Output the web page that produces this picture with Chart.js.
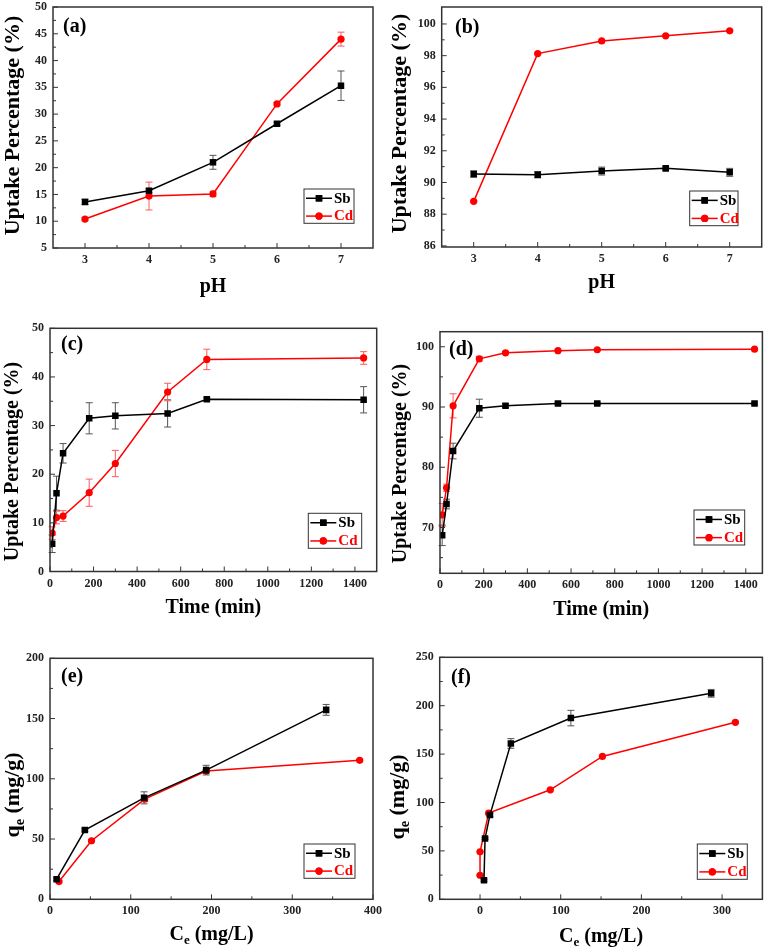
<!DOCTYPE html>
<html><head><meta charset="utf-8">
<script src="https://cdn.jsdelivr.net/npm/chart.js@4.4.0/dist/chart.umd.min.js"></script>
<style>
html,body{margin:0;padding:0;background:#fff;width:767px;height:952px;overflow:hidden;}
canvas{position:absolute;}
</style></head><body>
<canvas id="ca"></canvas><canvas id="cb"></canvas><canvas id="cc"></canvas>
<canvas id="cd"></canvas><canvas id="ce"></canvas><canvas id="cf"></canvas>
<script>
// ---------- DATA ----------
const pHValues = [3, 4, 5, 6, 7];
// (a)
const sbA = [13.6, 15.7, 21.0, 28.2, 35.3];
const sbAErr = [0.5, 0.4, 1.3, 0.3, 2.75];
const cdA = [10.4, 14.7, 15.1, 31.9, 44.0];
const cdAErr = [0.3, 2.6, 0.5, 0.3, 1.3];
// (b)
const sbB = [90.53, 90.49, 90.72, 90.89, 90.64];
const sbBErr = [0.2, 0.2, 0.25, 0.1, 0.25];
const cdB = [88.81, 98.13, 98.93, 99.25, 99.57];
const cdBErr = [0.05, 0.05, 0.05, 0.05, 0.05];
// time (min)
const timeValues = [10, 30, 60, 180, 300, 540, 720, 1440];
// (c)
const sbC = [5.7, 16.1, 24.3, 31.5, 32.0, 32.5, 35.4, 35.3];
const sbCErr = [1.8, 3.5, 2.0, 3.2, 2.7, 2.8, 0.3, 2.7];
const cdC = [7.9, 11.1, 11.4, 16.2, 22.2, 36.9, 43.6, 43.9];
const cdCErr = [1.3, 1.3, 1.1, 2.8, 2.7, 1.8, 2.1, 1.3];
// (d)
const sbD = [68.7, 73.9, 82.7, 89.8, 90.2, 90.6, 90.6, 90.6];
const sbDErr = [1.7, 0.8, 1.3, 1.5, 0.3, 0.2, 0.2, 0.2];
const cdD = [72.1, 76.6, 90.2, 98.0, 99.0, 99.35, 99.5, 99.6];
const cdDErr = [1.9, 0.6, 2.0, 0.4, 0.2, 0.1, 0.1, 0.1];
// (e) isotherm
const sbCeE = [8.2, 43.2, 116.5, 193.4, 342];
const sbQeE = [16.7, 57.5, 84.2, 107.2, 157.2];
const sbQeEErr = [1, 1, 5, 4, 4.5];
const cdCeE = [11.1, 51.4, 117.3, 193.4, 383.5];
const cdQeE = [14.7, 48.6, 83.1, 106.4, 115.3];
const cdQeEErr = [1, 1, 2, 1.5, 1];
// (f) isotherm
const sbCeF = [4.9, 6.2, 12.3, 38.2, 112.6, 286.5];
const sbQeF = [19.7, 62.8, 87.2, 161, 187.2, 212.8];
const sbQeFErr = [1, 1, 2, 5, 8, 4];
const cdCeF = [0, 0, 10.7, 87.1, 151.7, 316.5];
const cdQeF = [24.8, 49, 89, 113.1, 147.6, 182.8];
const cdQeFErr = [0.5, 0.5, 1, 1, 1, 1];
// tick labels
const pHTicks = [3, 4, 5, 6, 7];
const timeTicks = [0, 200, 400, 600, 800, 1000, 1200, 1400];
const seriesNames = ['Sb', 'Cd'];

// ---------- DRAWING ----------
const FONT = '"Liberation Serif", "Times New Roman", serif';
const range = (a, b, s) => { const r = []; for (let v = a; v <= b + 1e-9; v += s) r.push(+v.toFixed(4)); return r; };
const pts = (xs, ys) => xs.map((x, i) => ({x, y: ys[i]}));

function drawParts(ctx, parts, size) {
  // measure
  let w = 0;
  parts.forEach(p => {
    ctx.font = `bold ${p.sub ? size * 0.65 : size}px ${FONT}`;
    w += ctx.measureText(p.t).width;
  });
  let x = -w / 2;
  parts.forEach(p => {
    ctx.font = `bold ${p.sub ? size * 0.65 : size}px ${FONT}`;
    ctx.fillText(p.t, x, p.sub ? size * 0.22 : 0);
    x += ctx.measureText(p.t).width;
  });
}

function makeDecor(cfg) {
  const ox = cfg.box[0], oy = cfg.box[1];
  return {
    id: 'decor',
    beforeDatasetsDraw(chart) {
      const ctx = chart.ctx, xs = chart.scales.x, ys = chart.scales.y;
      cfg.errors.forEach((e, di) => {
        const ds = chart.data.datasets[di];
        ctx.save();
        ctx.strokeStyle = e.color; ctx.lineWidth = 1;
        ds.data.forEach((p, i) => {
          const err = e.vals[i]; if (!err) return;
          const px = xs.getPixelForValue(p.x);
          const y1 = ys.getPixelForValue(p.y + err), y2 = ys.getPixelForValue(p.y - err);
          ctx.beginPath();
          ctx.moveTo(px, y1); ctx.lineTo(px, y2);
          ctx.moveTo(px - 3.5, y1); ctx.lineTo(px + 3.5, y1);
          ctx.moveTo(px - 3.5, y2); ctx.lineTo(px + 3.5, y2);
          ctx.stroke();
        });
        ctx.restore();
      });
    },
    afterDraw(chart) {
      const ctx = chart.ctx, a = chart.chartArea, xs = chart.scales.x, ys = chart.scales.y;
      ctx.save();
      // ticks (inward)
      ctx.strokeStyle = '#333'; ctx.lineWidth = 1;
      ctx.beginPath();
      xs.ticks.forEach(t => { const p = xs.getPixelForValue(t.value); ctx.moveTo(p, a.bottom); ctx.lineTo(p, a.bottom - 5); });
      cfg.xMinor.forEach(v => { const p = xs.getPixelForValue(v); ctx.moveTo(p, a.bottom); ctx.lineTo(p, a.bottom - 3); });
      ys.ticks.forEach(t => { const p = ys.getPixelForValue(t.value); ctx.moveTo(a.left, p); ctx.lineTo(a.left + 5, p); });
      cfg.yMinor.forEach(v => { const p = ys.getPixelForValue(v); ctx.moveTo(a.left, p); ctx.lineTo(a.left + 3, p); });
      ctx.stroke();
      // frame
      ctx.strokeStyle = '#333'; ctx.lineWidth = 1.5;
      ctx.strokeRect(a.left, a.top, a.right - a.left, a.bottom - a.top);
      // panel label
      ctx.fillStyle = '#000';
      ctx.font = `bold 20px ${FONT}`;
      ctx.textAlign = 'left'; ctx.textBaseline = 'middle';
      ctx.fillText(cfg.label, cfg.labelPos[0] - ox, cfg.labelPos[1] - oy);
      // axis titles
      ctx.textAlign = 'left'; ctx.textBaseline = 'alphabetic';
      ctx.save();
      ctx.translate((a.left + a.right) / 2 + (cfg.xTitle.dx || 0), cfg.xTitle.y - oy);
      drawParts(ctx, cfg.xTitle.parts, cfg.xTitle.size);
      ctx.restore();
      ctx.save();
      ctx.translate(cfg.yTitle.x - ox, cfg.yTitle.y - oy);
      ctx.rotate(-Math.PI / 2);
      drawParts(ctx, cfg.yTitle.parts, cfg.yTitle.size);
      ctx.restore();
      // legend
      const [l, t, r, b] = cfg.legend.map((v, i) => v - (i % 2 ? oy : ox));
      ctx.strokeStyle = '#333'; ctx.lineWidth = 1;
      ctx.strokeRect(l, t, r - l, b - t);
      const h = b - t;
      const rows = [t + h * 0.27, t + h * 0.79];
      chart.data.datasets.forEach((ds, i) => {
        const y = rows[i];
        ctx.strokeStyle = ds.borderColor; ctx.lineWidth = 1.5;
        ctx.beginPath(); ctx.moveTo(l + 2, y); ctx.lineTo(l + 28, y); ctx.stroke();
        ctx.fillStyle = ds.borderColor;
        Chart.helpers.drawPoint(ctx, {pointStyle: ds.pointStyle, radius: ds.pointRadius, borderWidth: 0}, l + 15, y);
        ctx.fill();
        ctx.font = `bold 15px ${FONT}`;
        ctx.textBaseline = 'middle'; ctx.textAlign = 'left';
        ctx.fillStyle = ds.borderColor;
        ctx.fillText(ds.label, l + 30, y + 0.5);
      });
      ctx.restore();
    }
  };
}

function panel(cfg) {
  const [bx, by, bw, bh] = cfg.box;
  const [al, at, ar, ab] = cfg.area;
  const cv = document.getElementById(cfg.id);
  cv.width = bw; cv.height = bh;
  cv.style.left = bx + 'px'; cv.style.top = by + 'px';
  cv.style.width = bw + 'px'; cv.style.height = bh + 'px';
  const tickFont = {family: FONT, weight: 'bold', size: 12, lineHeight: 1};
  const mk = (name, color, style, r, xs, ys) => ({
    label: name, data: pts(xs, ys), showLine: true,
    borderColor: color, backgroundColor: color, borderWidth: 1.5,
    pointStyle: style, pointRadius: r, pointHoverRadius: r, pointBorderWidth: 0
  });
  new Chart(cv, {
    type: 'scatter',
    data: {datasets: [
      mk(seriesNames[0], '#000000', 'rect', 4.6, cfg.sb[0], cfg.sb[1]),
      mk(seriesNames[1], '#ff0000', 'circle', 3.6, cfg.cd[0], cfg.cd[1])
    ]},
    options: {
      responsive: false, animation: false, devicePixelRatio: 1,
      events: [],
      layout: {padding: {top: at - by, right: bx + bw - ar, left: 0, bottom: 0}},
      plugins: {legend: {display: false}, tooltip: {enabled: false}},
      scales: {
        x: {
          type: 'linear', min: cfg.x.min, max: cfg.x.max,
          grid: {display: false, drawTicks: false}, border: {display: false},
          ticks: {font: tickFont, color: '#222', padding: 6, maxRotation: 0, autoSkip: false, callback: v => String(v)},
          afterBuildTicks: s => { s.ticks = cfg.x.ticks.map(v => ({value: v})); },
          afterFit: s => { s.height = by + bh - ab; s.paddingLeft = 0; s.paddingRight = 0; }
        },
        y: {
          type: 'linear', min: cfg.y.min, max: cfg.y.max,
          grid: {display: false, drawTicks: false}, border: {display: false},
          ticks: {font: tickFont, color: '#222', padding: 6, autoSkip: false, callback: v => String(v)},
          afterBuildTicks: s => { s.ticks = cfg.y.ticks.map(v => ({value: v})); },
          afterFit: s => { s.width = al - bx; s.paddingTop = 0; s.paddingBottom = 0; }
        }
      }
    },
    plugins: [makeDecor({
      box: cfg.box, label: cfg.label, labelPos: cfg.labelPos,
      xTitle: cfg.xTitle, yTitle: cfg.yTitle, legend: cfg.legend,
      xMinor: cfg.x.minor, yMinor: cfg.y.minor,
      errors: [{vals: cfg.sbErr, color: '#555555'}, {vals: cfg.cdErr, color: '#ff5a5a'}]
    })]
  });
}

const upTitle = [{t: 'Uptake Percentage (%)'}];
const pHTitle = [{t: 'pH'}];
const timeTitle = [{t: 'Time (min)'}];
const ceTitle = [{t: 'C'}, {t: 'e', sub: true}, {t: ' (mg/L)'}];
const qeTitle = [{t: 'q'}, {t: 'e', sub: true}, {t: ' (mg/g)'}];

panel({id: 'ca', box: [0, 0, 383, 300], area: [53, 7, 373, 248],
  x: {min: 2.5, max: 7.5, ticks: pHTicks, minor: [3.5, 4.5, 5.5, 6.5]},
  y: {min: 5, max: 50, ticks: range(5, 50, 5), minor: range(7.5, 47.5, 5)},
  sb: [pHValues, sbA], sbErr: sbAErr, cd: [pHValues, cdA], cdErr: cdAErr,
  label: '(a)', labelPos: [63, 26.5],
  xTitle: {parts: pHTitle, size: 20, y: 291.5}, yTitle: {parts: upTitle, size: 22, x: 18.5, y: 125.5},
  legend: [304, 189, 354, 223.3]});

panel({id: 'cb', box: [384, 0, 383, 300], area: [441.7, 7, 761.7, 247],
  x: {min: 2.5, max: 7.5, ticks: pHTicks, minor: [3.5, 4.5, 5.5, 6.5]},
  y: {min: 85.93, max: 101.07, ticks: range(86, 100, 2), minor: range(87, 99, 2)},
  sb: [pHValues, sbB], sbErr: sbBErr, cd: [pHValues, cdB], cdErr: cdBErr,
  label: '(b)', labelPos: [455, 27.5],
  xTitle: {parts: pHTitle, size: 20, y: 288}, yTitle: {parts: upTitle, size: 22, x: 405.5, y: 123.5},
  legend: [689.7, 191, 738, 225.7]});

panel({id: 'cc', box: [0, 300, 384, 320], area: [50, 328.3, 376.7, 571.5],
  x: {min: 0, max: 1500, ticks: timeTicks, minor: range(100, 1300, 200)},
  y: {min: 0, max: 50, ticks: range(0, 50, 10), minor: range(5, 45, 10)},
  sb: [timeValues, sbC], sbErr: sbCErr, cd: [timeValues, cdC], cdErr: cdCErr,
  label: '(c)', labelPos: [61, 345],
  xTitle: {parts: timeTitle, size: 20, y: 613}, yTitle: {parts: upTitle, size: 20, x: 17.5, y: 461.5},
  legend: [308.3, 513.3, 361.7, 548.3]});

panel({id: 'cd', box: [384, 300, 383, 320], area: [440, 331.7, 764, 573.3],
  x: {min: 0, max: 1476, ticks: timeTicks, minor: range(100, 1300, 200)},
  y: {min: 62.4, max: 102.5, ticks: [70, 80, 90, 100], minor: [65, 75, 85, 95]},
  sb: [timeValues, sbD], sbErr: sbDErr, cd: [timeValues, cdD], cdErr: cdDErr,
  label: '(d)', labelPos: [449, 350],
  xTitle: {parts: timeTitle, size: 20, y: 615}, yTitle: {parts: upTitle, size: 20, x: 405.5, y: 463.5},
  legend: [694, 510, 744.7, 545]});

panel({id: 'ce', box: [0, 620, 384, 332], area: [50, 658.3, 373, 899.3],
  x: {min: 0, max: 400, ticks: range(0, 400, 100), minor: range(50, 350, 100)},
  y: {min: 0, max: 200, ticks: range(0, 200, 50), minor: range(25, 175, 50)},
  sb: [sbCeE, sbQeE], sbErr: sbQeEErr, cd: [cdCeE, cdQeE], cdErr: cdQeEErr,
  label: '(e)', labelPos: [61, 676.5],
  xTitle: {parts: ceTitle, size: 20, y: 940}, yTitle: {parts: qeTitle, size: 22, x: 19, y: 795},
  legend: [304, 844, 355, 878.3]});

panel({id: 'cf', box: [384, 620, 383, 332], area: [439.7, 657.3, 763, 899.3],
  x: {min: -50, max: 350, ticks: [0, 100, 200, 300], minor: [50, 150, 250]},
  y: {min: 0, max: 250, ticks: range(0, 250, 50), minor: range(25, 225, 50)},
  sb: [sbCeF, sbQeF], sbErr: sbQeFErr, cd: [cdCeF, cdQeF], cdErr: cdQeFErr,
  label: '(f)', labelPos: [451, 678],
  xTitle: {parts: ceTitle, size: 20, y: 941.5}, yTitle: {parts: qeTitle, size: 22, x: 404, y: 797},
  legend: [697.3, 844, 747.3, 879.3]});
</script>
</body></html>
